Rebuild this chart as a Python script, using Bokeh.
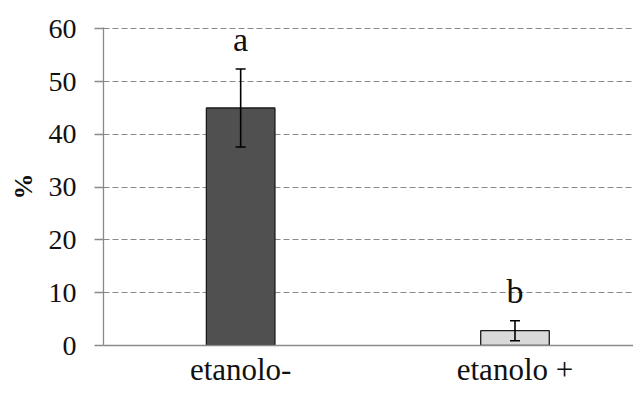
from bokeh.plotting import figure
from bokeh.models import ColumnDataSource, Whisker, FixedTicker, Range1d
from bokeh.core.properties import value
from bokeh.embed import file_html
from bokeh.resources import INLINE

categories = ["etanolo-", "etanolo +"]
means = [45.0, 2.8]
errors = [7.4, 1.9]
letters = ["a", "b"]
bar_colors = ["#505050", "#d9d9d9"]
y_ticks = [0, 10, 20, 30, 40, 50, 60]

xpos = [i + 0.5 for i in range(len(categories))]
src = ColumnDataSource(dict(
    x=xpos, top=means,
    upper=[m + e for m, e in zip(means, errors)],
    lower=[m - e for m, e in zip(means, errors)],
    letter=letters, color=bar_colors,
))

FONT = "Liberation Serif"

p = figure(width=633, height=389, output_backend="svg", toolbar_location=None,
           x_range=Range1d(0, 1.932), y_range=Range1d(0, 60.25),
           min_border_left=103, min_border_right=0, min_border_top=27,
           min_border_bottom=44)
p.outline_line_color = None
p.background_fill_color = "white"

p.vbar(x="x", top="top", bottom=0, width=0.25, fill_color="color",
       line_color="#1a1a1a", line_width=1.3, source=src)

w = Whisker(base="x", upper="upper", lower="lower", source=src,
            line_color="black", line_width=1.6, level="overlay")
w.upper_head.size = 10
w.lower_head.size = 10
w.upper_head.line_width = 1.6
w.lower_head.line_width = 1.6
p.add_layout(w)

p.text(x="x", y="upper", text="letter", source=src, y_offset=-11,
       text_align="center", text_baseline="bottom",
       text_font=value(FONT), text_font_size="34px", text_color="#111111")

# y axis
p.yaxis.ticker = FixedTicker(ticks=y_ticks)
p.yaxis.axis_label = "%"
p.yaxis.axis_label_text_font = FONT
p.yaxis.axis_label_text_font_style = "bold"
p.yaxis.axis_label_text_font_size = "26px"
p.yaxis.axis_label_text_color = "#111111"
p.yaxis.axis_label_standoff = 8
p.yaxis.major_label_text_font = FONT
p.yaxis.major_label_text_font_size = "28px"
p.yaxis.major_label_text_color = "#111111"
p.yaxis.major_label_standoff = 18
p.yaxis.major_tick_out = 9
p.yaxis.major_tick_in = 0
p.yaxis.minor_tick_line_color = None
p.yaxis.axis_line_color = "#8a8a8a"
p.yaxis.major_tick_line_color = "#8a8a8a"
p.yaxis.axis_line_width = 1.3
p.yaxis.major_tick_line_width = 1.3

# x axis
p.xaxis.ticker = FixedTicker(ticks=xpos)
p.xaxis.major_label_overrides = {x: c for x, c in zip(xpos, categories)}
p.xaxis.major_label_text_font = FONT
p.xaxis.major_label_text_font_size = "31px"
p.xaxis.major_label_text_color = "#111111"
p.xaxis.major_label_standoff = 0
p.xaxis.major_tick_line_color = None
p.xaxis.minor_tick_line_color = None
p.xaxis.axis_line_color = "#8a8a8a"
p.xaxis.axis_line_width = 1.3

p.xgrid.grid_line_color = None
p.ygrid.ticker = FixedTicker(ticks=y_ticks[1:])
p.ygrid.grid_line_color = "#8a8a8a"
p.ygrid.grid_line_dash = "6 3"
p.ygrid.grid_line_width = 1.1

open("out.html", "w").write(file_html(p, INLINE))
